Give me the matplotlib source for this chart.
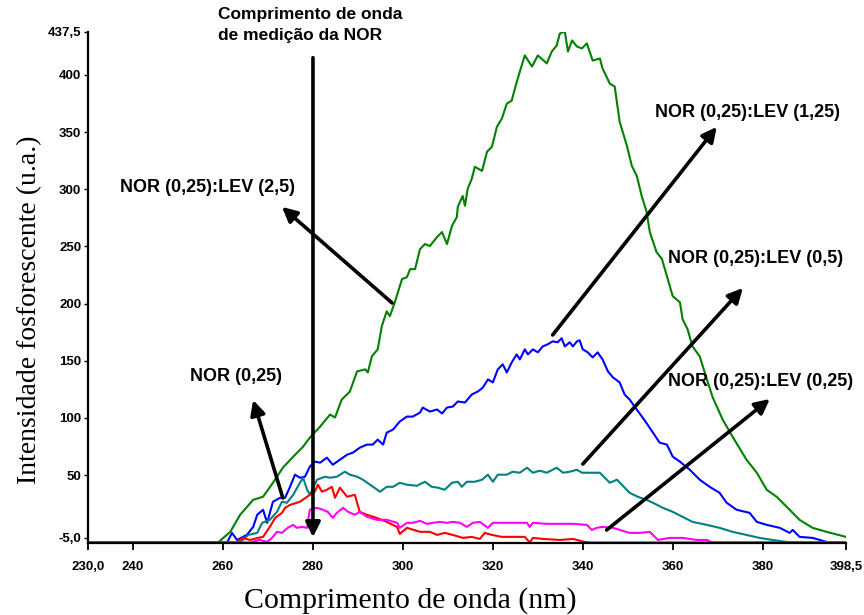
import matplotlib
matplotlib.use("Agg")
import matplotlib.pyplot as plt

# espectros de fosforescencia
x_lev25 = [230.0, 258.9, 261.6, 263.8, 266.7, 268.9, 271.1, 273.3, 275.6, 277.8, 279.3, 281.6, 283.8, 284.9,
           286.4, 288.2, 289.8, 291.6, 292.2, 293.1, 294.4, 295.3, 296.4, 297.1, 298.2, 299.8, 300.9, 301.6,
           302.7, 303.8, 304.9, 306.0, 307.6, 308.7, 309.8, 310.9, 312.0, 312.2, 313.3, 313.8, 314.4, 315.3,
           316.0, 317.6, 318.7, 319.8, 320.9, 322.0, 323.1, 324.2, 324.9, 326.0, 327.1, 328.7, 330.0, 332.0,
           333.1, 334.2, 334.9, 336.0, 336.7, 337.6, 338.7, 339.8, 340.9, 342.2, 343.8, 344.4, 346.0, 347.1,
           348.2, 349.8, 350.9, 352.0, 353.1, 354.2, 354.9, 356.4, 357.6, 358.7, 360.0, 361.6, 362.2, 363.3,
           364.4, 366.0, 367.6, 368.9, 371.1, 373.3, 376.4, 378.7, 380.9, 383.1, 386.0, 388.2, 391.1, 394.2,
           398.5]
y_lev25 = [-9.0, -9.0, 0.3, 15.2, 28.3, 31.0, 43.2, 56.4, 66.0, 74.8, 82.7, 92.4, 102.9, 100.3,
           116.0, 123.0, 140.6, 142.4, 139.7, 153.8, 159.9, 180.1, 193.2, 188.9, 201.1, 221.3, 223.1, 230.1,
           230.1, 247.6, 252.0, 250.3, 258.2, 262.5, 252.0, 267.8, 275.7, 284.5, 294.1, 285.4, 300.3, 309.0,
           319.6, 316.0, 332.7, 337.1, 354.6, 361.7, 374.8, 377.5, 388.0, 402.9, 417.0, 407.3, 417.0, 410.0,
           420.4, 425.7, 436.2, 438.0, 420.4, 430.1, 424.8, 423.1, 427.5, 412.5, 414.3, 405.5, 392.4, 389.7,
           359.0, 338.0, 320.4, 311.7, 294.1, 280.1, 262.5, 245.0, 238.9, 224.0, 206.4, 201.1, 186.2, 177.5,
           162.5, 153.8, 133.6, 117.8, 98.5, 83.6, 63.4, 52.0, 37.1, 31.0, 19.6, 10.8, 3.8, 0.3,
           -4.1]

x_lev125 = [230.0, 260.9, 262.0, 263.1, 265.3, 266.7, 267.6, 268.9, 269.8, 271.1, 272.7, 273.8, 274.9, 276.0,
            277.1, 278.2, 279.3, 280.4, 281.6, 283.1, 284.4, 286.0, 287.6, 288.9, 290.4, 292.0, 293.3, 294.4,
            295.6, 296.4, 297.8, 299.3, 300.9, 302.2, 303.8, 304.4, 306.0, 307.6, 308.7, 309.8, 311.1, 312.2,
            313.8, 315.3, 316.7, 317.8, 318.9, 320.0, 321.1, 322.2, 323.1, 324.2, 325.3, 326.0, 327.1, 327.8,
            328.9, 330.0, 331.1, 332.2, 333.3, 334.4, 335.3, 336.0, 337.1, 337.8, 338.7, 339.3, 340.0, 341.1,
            342.2, 343.3, 344.4, 345.6, 346.7, 348.2, 349.3, 350.4, 352.0, 353.3, 354.4, 355.6, 357.1, 358.7,
            360.0, 361.6, 363.8, 366.0, 368.2, 370.4, 372.0, 374.2, 377.1, 378.7, 380.9, 383.8, 386.0, 386.7,
            388.2, 391.1, 394.2, 397.1, 398.5]
y_lev125 = [-9.0, -9.0, -0.6, -6.8, -2.4, 4.6, 15.2, 19.6, 8.2, 26.6, 30.1, 30.1, 39.7, 50.3,
            47.6, 48.5, 57.3, 61.7, 60.8, 65.2, 59.0, 63.4, 67.8, 69.6, 73.9, 76.6, 76.6, 81.0,
            76.6, 87.1, 89.7, 96.8, 101.1, 101.1, 104.6, 109.0, 105.5, 107.3, 103.8, 109.0, 109.9, 114.3,
            113.4, 120.4, 123.1, 126.6, 133.6, 131.0, 142.4, 146.8, 139.7, 148.5, 155.5, 151.1, 159.9, 155.5,
            159.9, 157.3, 162.5, 164.3, 166.9, 166.1, 169.6, 162.5, 166.1, 162.5, 166.9, 167.8, 159.9, 157.3,
            152.9, 157.3, 151.1, 140.6, 135.4, 131.0, 120.4, 116.1, 107.3, 100.3, 94.1, 87.1, 78.3, 76.6,
            66.1, 61.7, 54.6, 45.9, 39.7, 34.5, 25.7, 19.6, 16.9, 9.0, 6.4, 3.8, -0.6, 2.0,
            -4.1, -5.0, -8.5, -9.0, -9.0]

x_lev05 = [230.0, 263.8, 265.6, 267.6, 268.7, 270.4, 272.0, 273.1, 274.2, 275.6, 277.1, 277.8, 278.7, 279.3,
           280.9, 282.7, 283.8, 285.3, 287.1, 288.2, 289.8, 291.1, 292.7, 294.9, 296.4, 297.8, 299.3, 300.9,
           303.1, 304.9, 306.4, 307.8, 309.3, 310.9, 312.2, 313.1, 314.2, 316.0, 317.6, 318.9, 320.0, 321.1,
           323.1, 324.4, 326.0, 327.6, 328.9, 330.4, 332.0, 334.2, 335.6, 337.1, 338.7, 339.8, 341.6, 343.8,
           344.9, 346.0, 347.6, 348.7, 350.4, 352.2, 354.2, 355.6, 357.8, 360.0, 362.2, 364.4, 367.6, 370.4,
           373.3, 376.4, 379.3, 382.2, 385.3, 388.2, 398.5]
y_lev05 = [-9.0, -9.0, -2.4, -0.6, 8.2, 10.8, 17.8, 26.6, 25.7, 32.7, 43.2, 47.6, 37.1, 32.7,
           45.9, 48.5, 47.6, 48.5, 52.9, 50.3, 48.5, 45.9, 41.5, 35.4, 39.7, 39.7, 43.2, 41.5,
           40.6, 44.1, 39.7, 38.9, 37.1, 43.2, 44.1, 39.7, 44.1, 44.1, 45.9, 50.3, 44.1, 50.3,
           50.3, 52.9, 52.0, 56.4, 52.0, 53.8, 52.0, 56.4, 52.0, 52.9, 54.6, 52.0, 52.0, 52.0,
           47.6, 43.2, 45.9, 41.5, 34.5, 31.0, 28.3, 25.7, 21.3, 17.8, 13.4, 9.0, 6.4, 3.8,
           0.3, -2.4, -5.0, -6.8, -8.5, -9.0, -9.0]

x_nor = [230.0, 263.1, 264.4, 266.0, 267.8, 268.9, 270.4, 271.6, 273.1, 273.8, 274.9, 277.1, 278.7, 280.4,
         281.1, 282.0, 283.1, 284.2, 284.9, 286.0, 287.6, 289.3, 290.4, 292.0, 294.2, 296.4, 298.7, 299.3,
         300.9, 303.8, 306.0, 307.6, 309.3, 311.1, 313.3, 315.3, 317.1, 318.2, 319.8, 322.0, 327.1, 328.2,
         328.9, 331.1, 334.9, 337.8, 340.4, 341.6, 398.5]
y_nor = [-9.0, -9.0, -5.0, -6.8, -5.0, -4.1, 4.6, 12.5, 16.9, 21.3, 23.9, 26.6, 31.0, 35.4,
         41.5, 35.4, 37.1, 39.7, 30.1, 38.9, 31.0, 32.7, 17.8, 15.2, 12.5, 9.0, 4.6, -1.5,
         3.8, 0.3, 0.3, -2.4, -0.6, -2.4, -5.0, -4.1, -5.9, -0.6, -2.4, -4.1, -4.1, -9.0,
         -5.0, -5.9, -6.8, -5.9, -8.5, -9.0, -9.0]

x_lev025 = [230.0, 266.0, 268.2, 269.8, 270.9, 272.0, 273.1, 274.4, 275.6, 276.4, 277.6, 278.7, 279.3, 280.9,
            282.2, 283.3, 284.4, 285.3, 286.7, 287.8, 289.3, 290.4, 292.0, 294.2, 296.4, 298.7, 299.3, 300.9,
            302.2, 303.8, 305.3, 306.7, 308.2, 309.8, 311.1, 312.7, 314.2, 315.6, 317.1, 318.9, 320.0, 321.6,
            323.8, 326.0, 327.6, 328.2, 328.9, 332.0, 334.9, 337.8, 340.9, 342.0, 343.1, 344.4, 346.7, 348.2,
            350.4, 352.7, 354.9, 356.7, 359.3, 362.2, 365.3, 367.6, 368.9, 398.5]
y_lev025 = [-9.0, -9.0, -6.8, -8.5, -5.0, 0.3, -0.6, 3.8, 6.4, 3.8, 4.6, 3.8, 19.6, 21.3,
            19.6, 17.8, 12.5, 16.9, 21.3, 17.8, 15.2, 17.8, 13.4, 10.8, 10.8, 8.2, 3.8, 8.2,
            8.2, 9.9, 7.3, 8.2, 9.0, 8.2, 9.0, 8.2, 4.6, 8.2, 9.0, 3.8, 8.2, 8.2,
            8.2, 8.2, 8.2, 4.6, 8.2, 7.3, 7.3, 7.3, 6.4, 2.0, 3.8, 4.6, 3.8, 2.0,
            -0.6, -0.6, 0.3, -6.8, -5.0, -5.0, -6.8, -6.8, -9.0, -9.0]

xticks = [230.0, 240, 260, 280, 300, 320, 340, 360, 380, 398.5]
xtick_labels = ["230,0", "240", "260", "280", "300", "320", "340", "360", "380", "398,5"]
yticks = [-5.0, 50, 100, 150, 200, 250, 300, 350, 400, 437.5]
ytick_labels = ["-5,0", "50", "100", "150", "200", "250", "300", "350", "400", "437,5"]

fig = plt.figure(figsize=(8.64, 6.15), dpi=100)
ax = fig.add_axes([0.102, 0.117, 0.877, 0.831])

ax.plot(x_lev25, y_lev25, color="#008000", lw=1.5)
ax.plot(x_lev125, y_lev125, color="#0000ff", lw=1.5)
ax.plot(x_lev05, y_lev05, color="#008080", lw=1.5)
ax.plot(x_nor, y_nor, color="#ff0000", lw=1.5)
ax.plot(x_lev025, y_lev025, color="#ff00ff", lw=1.5)

ax.set_xlim(230, 398.5)
ax.set_ylim(-9.5, 437.5)
for s in ["top", "right"]:
    ax.spines[s].set_visible(False)
for s in ["left", "bottom"]:
    ax.spines[s].set_linewidth(1.6)

tick_font = dict(family="Liberation Sans", weight="bold", size=9.5)
ax.set_xticks(xticks)
ax.set_xticklabels(xtick_labels, fontdict=tick_font)
ax.set_yticks(yticks)
ax.set_yticklabels(ytick_labels, fontdict=tick_font)
ax.tick_params(axis="x", direction="out", length=5, width=1.3, pad=8)
ax.tick_params(axis="y", direction="out", length=3, width=1.0, pad=2)

# rotulos dos eixos posicionados como no original
fig.text(410 / 864, 1 - 601 / 615, "Comprimento de onda (nm)", family="Liberation Serif",
         fontsize=21.5, ha="center", va="center")
fig.text(30 / 864, 1 - 310 / 615, "Intensidade fosforescente (u.a.)", family="Liberation Serif",
         fontsize=20, ha="center", va="center", rotation=90)

arrow = dict(arrowstyle="-|>", color="black", lw=2.6, mutation_scale=22, shrinkA=0, shrinkB=0)
lab = dict(family="Liberation Sans", weight="bold", fontsize=13, va="center", ha="left")

ax.annotate("", xy=(280, -4.3), xytext=(280, 415), arrowprops=arrow, annotation_clip=False)
ax.text(258.9, 459, "Comprimento de onda\nde medição da NOR", family="Liberation Sans",
        weight="bold", fontsize=12.5, va="top", ha="left", clip_on=False, linespacing=1.45)

ax.annotate("", xy=(273.1, 284.5), xytext=(297.6, 200.5), arrowprops=arrow)
ax.text(237.1, 301.1, "NOR (0,25):LEV (2,5)", **lab)

ax.annotate("", xy=(266.7, 115.6), xytext=(273.3, 29.9), arrowprops=arrow)
ax.text(252.7, 136.6, "NOR (0,25)", **lab)

ax.annotate("", xy=(369.8, 354.5), xytext=(333.3, 172.5), arrowprops=arrow)
ax.text(356.0, 366.7, "NOR (0,25):LEV (1,25)", **lab)

ax.annotate("", xy=(375.6, 213.6), xytext=(340.0, 59.6), arrowprops=arrow)
ax.text(358.9, 239.8, "NOR (0,25):LEV (0,5)", **lab)

ax.annotate("", xy=(381.6, 116.5), xytext=(345.3, 1.9), arrowprops=arrow)
ax.text(358.9, 131.4, "NOR (0,25):LEV (0,25)", **lab)

fig.savefig("out.png", dpi=100)
